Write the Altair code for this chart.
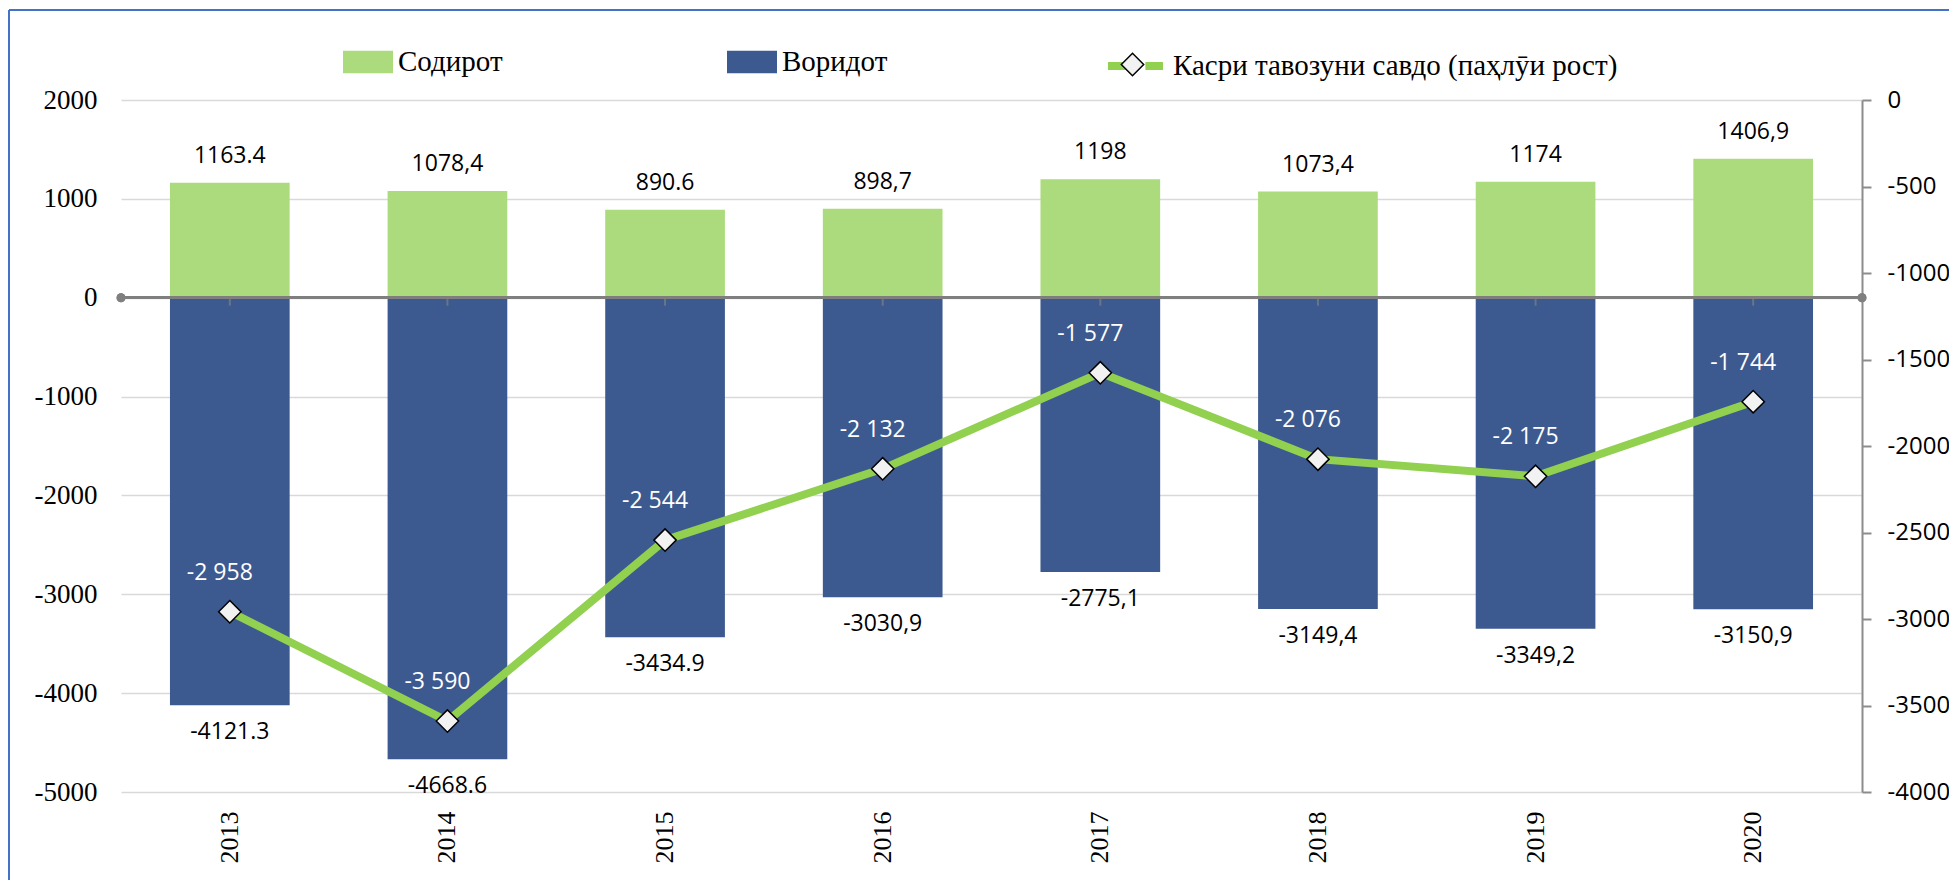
import altair as alt
import pandas as pd

# ---------------- data ----------------
years = ["2013", "2014", "2015", "2016", "2017", "2018", "2019", "2020"]
exports = [1163.4, 1078.4, 890.6, 898.7, 1198, 1073.4, 1174, 1406.9]
imports = [-4121.3, -4668.6, -3434.9, -3030.9, -2775.1, -3149.4, -3349.2, -3150.9]
balance = [-2958, -3590, -2544, -2132, -1577, -2076, -2175, -1744]
export_labels = ["1163.4", "1078,4", "890.6", "898,7", "1198", "1073,4", "1174", "1406,9"]
import_labels = ["-4121.3", "-4668.6", "-3434.9", "-3030,9", "-2775,1", "-3149,4", "-3349,2", "-3150,9"]
balance_labels = ["-2 958", "-3 590", "-2 544", "-2 132", "-1 577", "-2 076", "-2 175", "-1 744"]
series_names = ["Содирот", "Воридот"]
line_name = "Касри тавозуни савдо (паҳлӯи рост)"
marker_name = "маркер"
left_ticks = [2000, 1000, 0, -1000, -2000, -3000, -4000, -5000]
right_ticks = [0, -500, -1000, -1500, -2000, -2500, -3000, -3500, -4000]

# ---------------- style ----------------
W, H = 1741, 692
GREEN_BAR = "#ACDB7D"
BLUE_BAR = "#3C5A8F"
LINE_GREEN = "#92D050"
AXIS_GRAY = "#7F7F7F"
SERIF = "Liberation Serif"
SANS = "Open Sans"

bars_df = pd.DataFrame({
    "year": years * 2,
    "value": exports + imports,
    "series": [series_names[0]] * len(years) + [series_names[1]] * len(years),
    "label": export_labels + import_labels,
})
line_df = pd.DataFrame({
    "year": years,
    "balance": balance,
    "label": balance_labels,
    "name": [line_name] * len(years),
    "marker": [marker_name] * len(years),
})

x_axis = alt.Axis(
    title=None, labelAngle=-90, labelFont=SERIF, labelFontSize=26,
    labelColor="black", labelPadding=19, ticks=False, domain=False, grid=False,
)
x_scale = alt.Scale(domain=years, paddingInner=0.45, paddingOuter=0.225)


def xenc():
    return alt.X("year:N", sort=years, scale=x_scale, axis=x_axis)


yl_scale = alt.Scale(domain=[-5000, 2000], nice=False, zero=False)
yr_scale = alt.Scale(domain=[-4000, 0], nice=False, zero=False)

left_axis = alt.Axis(
    title=None, values=left_ticks, labelFont=SERIF, labelFontSize=27,
    labelColor="black", labelPadding=24, ticks=False, domain=False,
    grid=True, gridColor="#D9D9D9", gridWidth=1.5,
    labelExpr="datum.value + ''",
)
right_axis = alt.Axis(
    title=None, orient="right", values=right_ticks, labelFont=SANS, labelFontSize=24,
    labelColor="black", labelPadding=16, ticks=True, tickSize=9, tickColor="#8C8C8C",
    tickWidth=2, domain=True, domainColor="#8C8C8C", domainWidth=2, grid=False,
    labelExpr="datum.value + ''",
)


def yl(field="value:Q"):
    return alt.Y(field, scale=yl_scale, stack=None, axis=left_axis)


def yl0():
    return alt.Y(datum=0, scale=yl_scale, axis=left_axis)


def yr():
    return alt.Y("balance:Q", scale=yr_scale, axis=right_axis)


bars = alt.Chart(bars_df).mark_bar().encode(
    x=xenc(),
    y=yl(),
    y2=alt.datum(0),
    fill=alt.Fill(
        "series:N",
        scale=alt.Scale(domain=series_names, range=[GREEN_BAR, BLUE_BAR]),
        legend=alt.Legend(
            title=None, orient="none", direction="horizontal", legendX=222, legendY=-63,
            symbolType="M-1,-0.45H1V0.45H-1Z", symbolSize=2500, symbolStrokeWidth=0,
            labelFont=SERIF, labelFontSize=29, labelColor="black", labelOffset=5,
            columnPadding=224, padding=0, labelLimit=800,
        ),
    ),
)

export_text = alt.Chart(bars_df).transform_filter(
    alt.datum.value >= 0
).mark_text(font=SANS, fontSize=23, color="black", dy=-27, baseline="middle").encode(
    x=xenc(), y=yl(), text="label:N"
)
import_text = alt.Chart(bars_df).transform_filter(
    alt.datum.value < 0
).mark_text(font=SANS, fontSize=23, color="black", dy=27, baseline="middle").encode(
    x=xenc(), y=yl(), text="label:N"
)

zero_rule = alt.Chart(bars_df).transform_filter(alt.datum.value >= 0).mark_rule(
    color=AXIS_GRAY, strokeWidth=2.5
).encode(x=alt.value(0), x2=alt.value(W), y=yl0())
zero_ticks = alt.Chart(bars_df).transform_filter(
    alt.datum.value >= 0
).mark_tick(orient="vertical", color=AXIS_GRAY, thickness=2, size=8, yOffset=4).encode(
    x=xenc(), y=yl0()
)
dot_left = alt.Chart(bars_df).transform_filter(alt.datum.year == years[0]).mark_circle(
    color=AXIS_GRAY, size=80, opacity=1
).encode(x=alt.value(0), y=yl0())
dot_right = alt.Chart(bars_df).transform_filter(alt.datum.year == years[0]).mark_circle(
    color=AXIS_GRAY, size=80, opacity=1
).encode(x=alt.value(W), y=yl0())

border_left = alt.Chart(bars_df).transform_filter(alt.datum.year == years[0]).mark_rule(
    color="#4472C4", strokeWidth=2
).encode(x=alt.value(-112), y=alt.value(-90), y2=alt.value(H + 120))
border_top = alt.Chart(bars_df).transform_filter(alt.datum.year == years[0]).mark_rule(
    color="#4472C4", strokeWidth=2
).encode(x=alt.value(-112), x2=alt.value(W + 120), y=alt.value(-90))

left_group = alt.layer(
    bars, zero_rule, zero_ticks, dot_left, dot_right, export_text, import_text,
    border_left, border_top,
)

line = alt.Chart(line_df).mark_line(strokeWidth=8).encode(
    x=xenc(),
    y=yr(),
    stroke=alt.Stroke(
        "name:N",
        scale=alt.Scale(domain=[line_name], range=[LINE_GREEN]),
        legend=alt.Legend(
            title=None, orient="none", direction="horizontal", legendX=983, legendY=-65.5,
            symbolType="M-1,0H-0.36M0.36,0H1", symbolStrokeWidth=8, symbolSize=3025,
            labelFont=SERIF, labelFontSize=29, labelColor="black", labelOffset=6,
            padding=0, labelLimit=900, zindex=0,
        ),
    ),
)
points = alt.Chart(line_df).mark_point(
    shape="diamond", filled=False, color="black", fill="#F2F2F2", stroke="black",
    strokeWidth=1.5, size=500, opacity=1, fillOpacity=1, strokeOpacity=1,
).encode(
    x=xenc(),
    y=yr(),
    shape=alt.Shape(
        "marker:N",
        scale=alt.Scale(domain=[marker_name], range=["diamond"]),
        legend=alt.Legend(
            title=None, orient="none", direction="horizontal", legendX=999.5, legendY=-47.5,
            symbolType="diamond", symbolSize=500, symbolStrokeWidth=1.5, symbolOpacity=1,
            labelExpr="''", labelFontSize=1, padding=0, zindex=1,
        ),
    ),
)
line_text = alt.Chart(line_df).mark_text(
    font=SANS, fontSize=23, color="white", dx=-10, dy=-39, baseline="middle"
).encode(
    x=xenc(), y=yr(), text="label:N"
)

right_group = alt.layer(line, points, line_text)

chart = alt.layer(left_group, right_group).resolve_scale(
    y="independent"
).properties(
    width=W, height=H,
    autosize=alt.AutoSizeParams(type="none"),
    padding={"left": 113, "top": 92, "right": 87, "bottom": 88},
    background="white",
).configure_view(stroke=None)

chart.save("out.html", embed_options={"renderer": "svg", "actions": False})
